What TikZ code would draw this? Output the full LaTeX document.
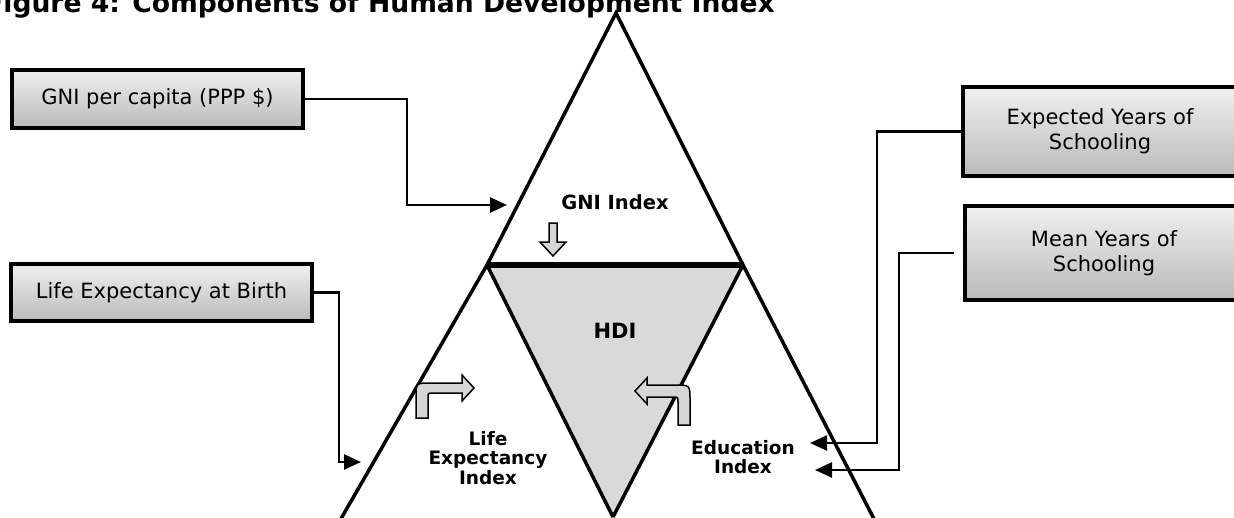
\documentclass[tikz,border=0pt]{standalone}
\usepackage{fontspec}
\setmainfont{DejaVu Sans}
\usetikzlibrary{arrows.meta}
\begin{document}
\begin{tikzpicture}[x=1pt,y=-1pt,
  srcbox/.style={draw=black, line width=4pt, top color=black!6, bottom color=black!27, inner sep=0pt, font=\fontsize{21}{25}\selectfont, align=center},
  conn/.style={line width=2.6pt, line join=miter, -{Triangle[length=17pt,width=15pt]}},
  tri/.style={line width=3.5pt, line join=miter},
  lbl/.style={font=\bfseries\fontsize{18.5}{19.5}\selectfont, align=center, inner sep=0pt},
  blockarrow/.style={draw=black, line width=1.5pt, fill=black!16, line join=miter}
]
\useasboundingbox (0,0) rectangle (1234,517);

% title (top cut off as in reference)
\node[anchor=base east, font=\bfseries\fontsize{26.6}{30}\selectfont, inner sep=0pt] (title) at (775,12) {Figure 4: Components of Human Development Index};

% triangle geometry
\coordinate (apex) at (616,13);
\coordinate (bl) at (487,265);
\coordinate (br) at (743,265);
\coordinate (hdiB) at (613,517);
\coordinate (lb) at (334.5,530);
\coordinate (rb) at (879.7,530);

\fill[black!15] (bl) -- (br) -- (hdiB) -- cycle;
\draw[tri] (bl) -- (apex) -- (br);
\draw[tri] (lb) -- (bl) -- (hdiB);
\draw[tri] (rb) -- (br) -- (hdiB);
\draw[line width=6pt] (bl) -- (br);

% source boxes
\node[srcbox, minimum width=291pt, minimum height=58pt] (gni) at (157.5,99) {GNI per capita (PPP \$)};
\node[srcbox, minimum width=301pt, minimum height=57pt] (life) at (161.5,292.5) {Life Expectancy at Birth};
\node[srcbox, minimum width=274pt, minimum height=89pt] (exp) at (1100,131.5) {Expected Years of\\Schooling};
\node[srcbox, minimum width=278pt, minimum height=94pt] (mean) at (1104,253) {Mean Years of\\Schooling};

% labels
\node[lbl, font=\bfseries\fontsize{19.5}{21}\selectfont] (gniL) at (615,202) {GNI Index};
\node[lbl, font=\bfseries\fontsize{21}{22}\selectfont] (hdiL) at (615,331) {HDI};
\node[lbl] (lifeL) at (488,458) {Life\\Expectancy\\Index};
\node[lbl] (eduL) at (743,457) {Education\\Index};

% connectors
\coordinate (gniIn) at (507,205);
\coordinate (lifeIn) at (361,462);
\coordinate (eduIn1) at (810,443);
\coordinate (eduIn2) at (815,470);
\draw[conn] (gni.east) -- ++(102,0) |- (gniIn);
\draw[conn] (life.east) -- ++(25,0) |- (lifeIn);
\draw[conn] (exp.west) -- ++(-84,0) |- (eduIn1);
\draw[conn] ([xshift=-9pt]mean.west) -- ++(-55,0) |- (eduIn2);

% block arrows
\draw[blockarrow] (549,223) -- (557,223) -- (557,242) -- (566,242) -- (553,256) -- (540,242) -- (549,242) -- cycle;
\draw[blockarrow] (416,418) -- (416,398) .. controls (416,383) .. (431,383) -- (462,383) -- (462,375) -- (474,388) -- (462,401) -- (462,393) -- (433,393) .. controls (428,393) .. (428,398) -- (428,418) -- cycle;
\draw[blockarrow] (690,425) -- (690,400) .. controls (690,385) .. (675,385) -- (647,385) -- (647,378) -- (635,391) -- (647,404) -- (647,397) -- (673,397) .. controls (678,397) .. (678,402) -- (678,425) -- cycle;
\end{tikzpicture}
\end{document}
